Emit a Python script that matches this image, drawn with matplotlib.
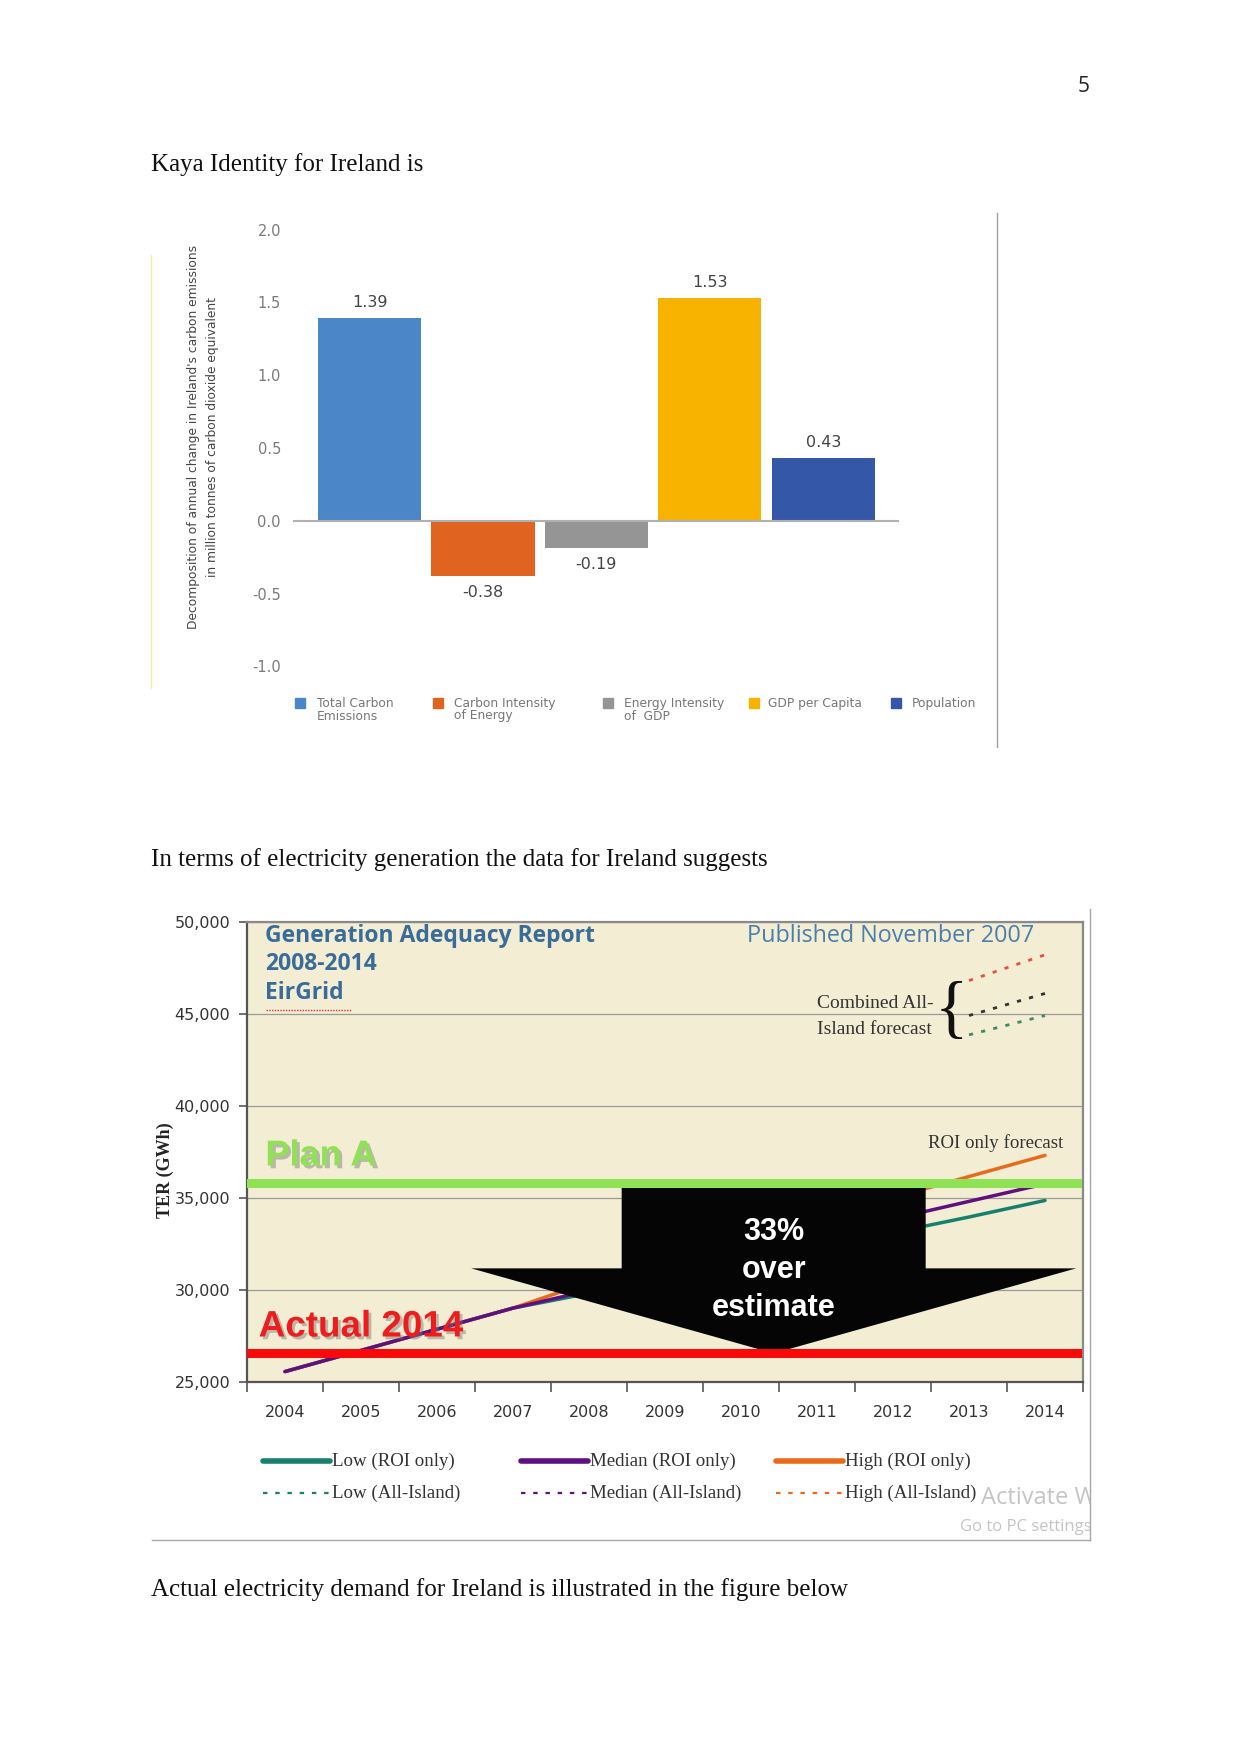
import matplotlib
matplotlib.use("Agg")
import matplotlib.pyplot as plt
import matplotlib.patheffects as pe
from matplotlib.lines import Line2D
from matplotlib.patches import Rectangle

W, H = 1241, 1754

# Kaya identity, Ireland (million tonnes CO2 eq.)
kaya_labels = ["Total Carbon\nEmissions", "Carbon Intensity\nof Energy",
               "Energy Intensity\nof  GDP", "GDP per Capita", "Population"]
kaya_values = [1.39, -0.38, -0.19, 1.53, 0.43]
kaya_colors = ["#4A86C8", "#E0631F", "#959595", "#F8B300", "#3457A8"]
kaya_ticks = [-1.0, -0.5, 0.0, 0.5, 1.0, 1.5, 2.0]

# EirGrid Generation Adequacy Report 2008-2014, TER (GWh)
years = [2004, 2005, 2006, 2007, 2008, 2009, 2010, 2011, 2012, 2013, 2014]
ter_low = [25550, 26700, 27850, 29000, 29800, 30600, 31450, 32250, 33100, 33950, 34850]
ter_median = [25550, 26700, 27850, 29000, 29950, 30900, 31900, 32850, 33850, 34800, 35750]
ter_high = [25550, 26700, 27850, 29000, 30400, 31550, 32700, 33850, 35000, 36150, 37300]
island_years = [2013, 2014]
island_low = [43850, 44900]
island_median = [44900, 46100]
island_high = [46800, 48200]
plan_a = 35780
actual_2014 = 26540
ter_ticks = [25000, 30000, 35000, 40000, 45000, 50000]

c_low = "#17806D"
c_med = "#5E1080"
c_high = "#EA6A1C"


def fx(px):
    return px / W


def fy(py):
    return 1 - py / H


fig = plt.figure(figsize=(W / 100, H / 100), dpi=100)
fig.patch.set_facecolor("white")

serif = ["Liberation Serif", "DejaVu Serif"]
narrow = ["DejaVu Sans"]
sans = ["Open Sans", "DejaVu Sans"]
arial = ["Liberation Sans", "DejaVu Sans"]

# page text
fig.text(fx(1084), fy(87), "5", fontsize=15, family=sans,
         ha="center", va="center", color="#222")
fig.text(fx(151), fy(165), "Kaya Identity for Ireland is", fontsize=18, family=serif,
         va="center", color="#111")
fig.text(fx(151), fy(860), "In terms of electricity generation the data for Ireland suggests",
         fontsize=18, family=serif, va="center", color="#111")
fig.text(fx(151), fy(1590), "Actual electricity demand for Ireland is illustrated in the figure below",
         fontsize=18, family=serif, va="center", color="#111")

# ---------- Kaya chart ----------
ax1 = fig.add_axes([fx(293.4), fy(666.4), (899.4 - 293.4) / W, (666.4 - 229.6) / H])
ax1.bar(range(len(kaya_values)), kaya_values, width=0.91, color=kaya_colors, zorder=2)
for i, v in enumerate(kaya_values):
    off = 11.5 if v > 0 else -11.5
    ax1.annotate(f"{v:.2f}", (i, v), xytext=(0, off), textcoords="offset points",
                 ha="center", va="center", fontsize=11.5, color="#444", family=narrow)
ax1.axhline(0, color="#B0B0B0", lw=1.5, zorder=3)
ax1.set_xlim(-0.672, 4.672)
ax1.set_ylim(-1.0, 2.0)
ax1.set_yticks(kaya_ticks)
ax1.set_yticklabels([f"{t:.1f}" for t in kaya_ticks], family=narrow)
ax1.set_xticks([])
ax1.tick_params(axis="y", length=0, pad=9, labelsize=10.5, labelcolor="#7A7A7A")
for s in ax1.spines.values():
    s.set_visible(False)
ax1.patch.set_alpha(0)

fig.text(fx(203), fy(437),
         "Decomposition of annual change in Ireland's carbon emissions\n"
         "in million tonnes of carbon dioxide equivalent",
         rotation=90, ha="center", va="center", multialignment="center",
         fontsize=8.8, color="#444", linespacing=1.55, family=narrow)

# Kaya legend
leg_sq_x = [300, 438, 608, 754, 896]
leg_tx_x = [317, 454, 624, 768, 912]
for i, lab in enumerate(kaya_labels):
    fig.add_artist(Rectangle((fx(leg_sq_x[i] - 5), fy(708)), 10 / W, 10 / H,
                             transform=fig.transFigure, color=kaya_colors[i]))
    fig.text(fx(leg_tx_x[i]), fy(697), lab, fontsize=8.8, color="#777", va="top",
             ha="left", linespacing=0.95, family=narrow)

fig.add_artist(Line2D([fx(151), fx(151)], [fy(255), fy(688)], transform=fig.transFigure,
                      color="#F2F0A8", lw=1))
fig.add_artist(Line2D([fx(997), fx(997)], [fy(213), fy(747)], transform=fig.transFigure,
                      color="#A0A0A0", lw=1))

# ---------- EirGrid chart ----------
ax2 = fig.add_axes([fx(247), fy(1381.7), (1083 - 247) / W, (1381.7 - 921.7) / H])
ax2.set_facecolor("#F2EDD3")
ax2.set_xlim(2003.5, 2014.5)
ax2.set_ylim(25000, 50000)
ax2.set_yticks(ter_ticks)
ax2.set_yticklabels([f"{t:,}" for t in ter_ticks], family=narrow)
ax2.set_xticks(years)
ax2.set_xticklabels([str(y) for y in years], family=narrow)
ax2.set_xticks([y - 0.5 for y in years] + [years[-1] + 0.5], minor=True)
ax2.tick_params(axis="x", which="major", length=0, pad=17, labelsize=11.5, labelcolor="#333")
ax2.tick_params(axis="x", which="minor", length=7, width=1.2, color="#555", direction="out")
ax2.tick_params(axis="y", length=6, width=1.2, color="#555", pad=6, labelsize=11.5,
                labelcolor="#333")
ax2.grid(axis="y", color="#9A9A9A", lw=0.9, zorder=0.5)
ax2.set_axisbelow(True)
for s in ax2.spines.values():
    s.set_color("#8A8A8A")
    s.set_linewidth(1.6)
ax2.spines["left"].set_color("#555")
ax2.spines["bottom"].set_color("#555")

ax2.plot(years, ter_low, color=c_low, lw=2.5, zorder=2, solid_capstyle="round")
ax2.plot(years, ter_high, color=c_high, lw=2.5, zorder=2.1, solid_capstyle="round")
ax2.plot(years, ter_median, color=c_med, lw=2.5, zorder=2.2, solid_capstyle="round")
ax2.plot(island_years, island_high, color="#E8503A", lw=2, ls=(0, (1.5, 3)), zorder=2)
ax2.plot(island_years, island_median, color="#333", lw=2, ls=(0, (1.5, 3)), zorder=2)
ax2.plot(island_years, island_low, color="#3E8A66", lw=2, ls=(0, (1.5, 3)), zorder=2)

# over-estimate arrow between plan A and actual
arr_c, shaft_hw, head_hw = 2010.43, 2.0, 3.98
mid = (plan_a + actual_2014) / 2
ax2.fill([arr_c - shaft_hw, arr_c + shaft_hw, arr_c + shaft_hw, arr_c + head_hw,
          arr_c, arr_c - head_hw, arr_c - shaft_hw],
         [plan_a, plan_a, mid, mid, actual_2014, mid, mid],
         color="#050505", zorder=2.5, lw=0)
ax2.axhline(plan_a, xmin=0.004, xmax=0.993, color="#8FE256", lw=6.5, zorder=3)
ax2.axhline(actual_2014, xmin=0.004, xmax=0.993, color="#F80A0A", lw=6.5, zorder=3)


# annotations in pixel space
def t2(px, py, s, **kw):
    fig.text(fx(px), fy(py), s, **kw)


blue = "#3A6C9A"
for s, py in [("Generation Adequacy Report", 936), ("2008-2014", 964.5), ("EirGrid", 993)]:
    t2(265.4, py, s, fontsize=16.5, color=blue, weight="bold", family=sans, va="center")
fig.add_artist(Line2D([fx(266), fx(352)], [fy(1010), fy(1010)], transform=fig.transFigure,
                      color="#E03030", lw=1, ls=(0, (1, 1))))
t2(747, 936, "Published November 2007", fontsize=16.8, color="#4C7EAC", family=sans,
   va="center")
t2(817, 1003, "Combined All-", fontsize=14, color="#333", family=serif, va="center")
t2(817, 1030, "Island forecast", fontsize=14, color="#333", family=serif, va="center")
t2(951, 1013, "{", fontsize=50, color="#111", family=serif, va="center", ha="center")
t2(928, 1143, "ROI only forecast", fontsize=13.6, color="#333", family=serif, va="center")

shadow = [pe.withSimplePatchShadow(offset=(2, -2), shadow_rgbFace="#777", alpha=0.45)]
fig.text(fx(265.4), fy(1156), "Plan A", fontsize=26, weight="bold", color="#8FE256",
         family=arial, va="center", path_effects=shadow, zorder=1.5)
fig.text(fx(258.7), fy(1327), "Actual 2014", fontsize=26.5, weight="bold", color="#EE1C1C",
         family=arial, va="center", path_effects=shadow, zorder=1.5)
for s, py in [("33%", 1232), ("over", 1270), ("estimate", 1308)]:
    t2(774, py, s, fontsize=22, weight="bold", color="white",
       family=arial, ha="center", va="center", zorder=5)

fig.text(fx(165), fy(1170), "TER (GWh)", rotation=90, fontsize=13, weight="bold",
         family=serif, ha="center", va="center", color="#222")

# EirGrid legend
leg_rows = [
    [(263, 330, c_low, "-", "Low (ROI only)"), (521, 588, c_med, "-", "Median (ROI only)"),
     (776, 843, c_high, "-", "High (ROI only)")],
    [(263, 330, c_low, ":", "Low (All-Island)"), (521, 588, c_med, ":", "Median (All-Island)"),
     (776, 843, c_high, ":", "High (All-Island)")],
]
for row, py in zip(leg_rows, [1461, 1493]):
    for x0, x1, col, ls, lab in row:
        if ls == "-":
            fig.add_artist(Line2D([fx(x0), fx(x1)], [fy(py), fy(py)], transform=fig.transFigure,
                                  color=col, lw=4, solid_capstyle="round"))
        else:
            fig.add_artist(Line2D([fx(x0), fx(x1)], [fy(py), fy(py)], transform=fig.transFigure,
                                  color=col, lw=1.6, ls=(0, (2, 3.5))))
        fig.text(fx(x1 + 2), fy(py), lab, fontsize=13.6, color="#333", family=serif,
                 va="center")

# frame of the pasted picture
fig.add_artist(Line2D([fx(1090), fx(1090)], [fy(909), fy(1540)], transform=fig.transFigure,
                      color="#A8A8A8", lw=1))
fig.add_artist(Line2D([fx(152), fx(1090)], [fy(1540), fy(1540)], transform=fig.transFigure,
                      color="#A8A8A8", lw=1))

# windows watermark, clipped at the picture edge
axw = fig.add_axes([0, 0, 1090 / W, 1])
axw.set_axis_off()
axw.patch.set_alpha(0)
axw.set_xlim(0, 1090)
axw.set_ylim(H, 0)
axw.text(981, 1498, "Activate Windows", fontsize=17, color="#C4C4C4", family=sans,
         va="center", clip_on=True)
axw.text(960, 1527, "Go to PC settings", fontsize=12, color="#C4C4C4", family=sans,
         va="center", clip_on=True)

fig.savefig("out.png", dpi=100, facecolor="white")
